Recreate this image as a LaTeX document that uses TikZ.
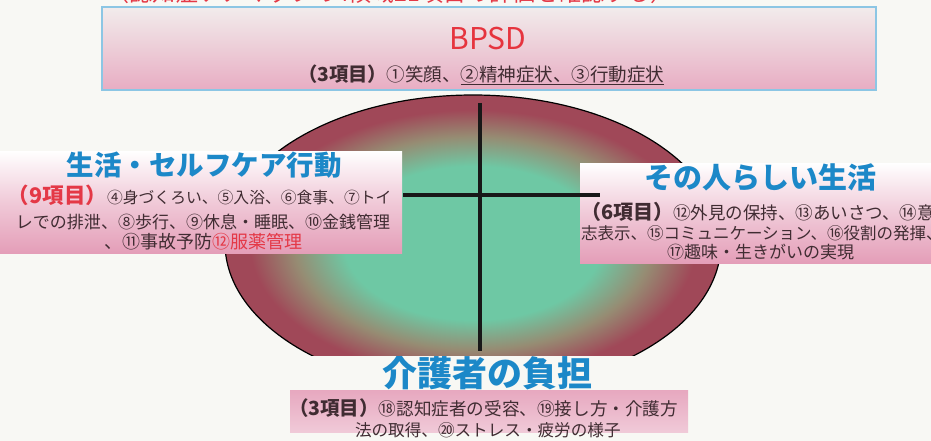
\documentclass[tikz,border=0pt]{standalone}
\usepackage{fontspec}
\setmainfont{Noto Sans CJK JP}
\usetikzlibrary{shapes.geometric}
\definecolor{bgc}{RGB}{248,248,244}
\definecolor{ttlblue}{RGB}{28,136,200}
\definecolor{bpsdred}{RGB}{230,52,62}
\definecolor{redtxt}{RGB}{228,56,70}
\definecolor{egreen}{RGB}{110,200,164}
\definecolor{emid}{RGB}{150,140,115}
\definecolor{emaroon}{RGB}{160,72,88}
\definecolor{pinkb}{RGB}{228,158,184}
\definecolor{pinkl}{RGB}{242,236,236}
\definecolor{boxblue}{RGB}{140,198,228}
\definecolor{txt}{RGB}{64,44,50}
\definecolor{crossc}{RGB}{24,24,24}
\pgfdeclareradialshading{ellshade}{\pgfpoint{0bp}{0bp}}{color(0bp)=(egreen); color(13bp)=(egreen); color(18bp)=(emid); color(22.5bp)=(emaroon); color(25bp)=(emaroon); color(50bp)=(emaroon)}
\newcommand{\myfs}[1]{\fontsize{#1}{#1}\selectfont}
\begin{document}
\begin{tikzpicture}[x=1pt,y=-1pt,
  body/.style={inner sep=0pt, outer sep=0pt, text=txt, anchor=west},
  ttl/.style={inner sep=0pt, outer sep=0pt, text=ttlblue},
  pinkbox/.style={inner sep=0pt, outer sep=0pt, anchor=north west, top color=white, bottom color=pinkb, middle color=white!45!pinkb},
  crossline/.style={draw=crossc, line width=4.5pt}]
\useasboundingbox (0,0) rectangle (931,441);
\clip (0,0) rectangle (931,441);
\fill[bgc] (0,0) rectangle (931,441);

% clipped red heading at the very top
\node[inner sep=0pt, anchor=base west, text=redtxt] (head) at (106,1.5)
  {\myfs{23}（認知症ケアマップの4領域21項目の評価を確認する）};

% BPSD box
\node[inner sep=0pt, outer sep=0pt, anchor=north west, draw=boxblue, line width=1.3pt,
  top color=pinkl, bottom color=pinkb!85, middle color=pinkl!60!pinkb,
  minimum width=774pt, minimum height=83pt] (bbox) at (102,7) {};
\node[inner sep=0pt, text=bpsdred] (bpsd) at (488,39) {\myfs{30}BPSD};
\node[body] (bsub) at (298,75) {{\bfseries\myfs{19.3}（3項目）}{\myfs{18.5}①笑顔、\underline{②精神症状、③行動症状}}};

% central oval
\begin{scope}
\clip (0,0) rectangle (931,355);
\node[ellipse, draw=black, line width=1.2pt, shading=ellshade, inner sep=0pt,
  minimum width=496pt, minimum height=296pt] (oval) at (473,243) {};
\end{scope}

% left box
\node[pinkbox, minimum width=402pt, minimum height=102pt] (lbox) at (0,151) {};
\node[ttl] (ltitle) at (204,165) {\bfseries\myfs{27.5}生活・セルフケア行動};
\node[body] (l1) at (8,195) {{\bfseries\myfs{21.5}\color{redtxt}（9項目）}{\myfs{15.8}④身づくろい、⑤入浴、⑥食事、⑦トイ}};
\node[body] (l2) at (16,222) {\myfs{17}レでの排泄、⑧歩行、⑨休息・睡眠、⑩金銭管理};
\node[body] (l3) at (104,242) {\myfs{18}、⑪事故予防{\color{redtxt}⑫服薬管理}};

% right box
\node[pinkbox, minimum width=360pt, minimum height=100pt] (rbox) at (580,163) {};
\node[ttl] (rtitle) at (760,177) {\bfseries\myfs{29}その人らしい生活};
\node[body] (r1) at (581,212) {{\bfseries\myfs{20}（6項目）}{\myfs{17.5}⑫外見の保持、⑬あいさつ、⑭意}};
\node[body] (r2) at (581,233) {\myfs{16.5}志表示、⑮コミュニケーション、⑯役割の発揮、};
\node[body] (r3) at (667,252) {\myfs{17}⑰趣味・生きがいの実現};

% cross
\coordinate (vt) at (480,103);
\coordinate (vb) at (480,351);
\coordinate (hl) at (403,195);
\coordinate (hr) at (600,195);
\draw[crossline] (vt) -- (vb);
\draw[crossline] (hl) -- (hr);

% bottom
\node[ttl] (btitle) at (487,373) {\bfseries\myfs{35}介護者の負担};
\node[inner sep=0pt, outer sep=0pt, anchor=north west, top color=pinkb!90, bottom color=pinkb!55,
  minimum width=398pt, minimum height=42pt] (botbox) at (290,390) {};
\node[body] (b1) at (289,408) {{\bfseries\myfs{19.5}（3項目）}{\myfs{17.6}⑱認知症者の受容、⑲接し方・介護方}};
\node[body] (b2) at (355,430) {\myfs{16.6}法の取得、⑳ストレス・疲労の様子};
\end{tikzpicture}
\end{document}
